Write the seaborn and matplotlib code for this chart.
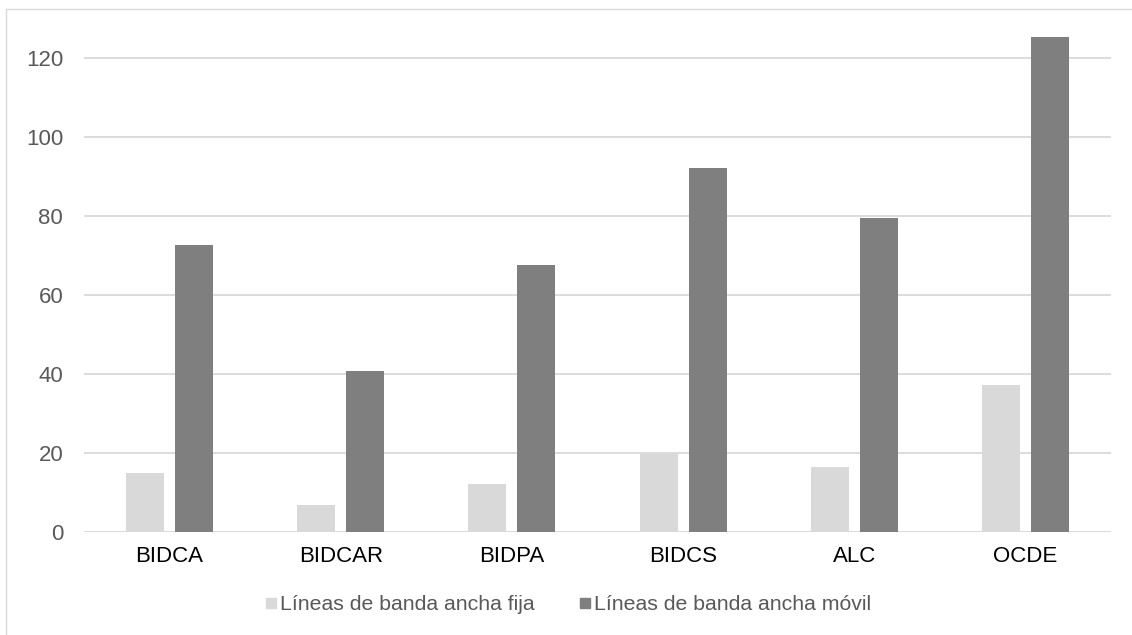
import matplotlib
matplotlib.use("Agg")
import matplotlib.pyplot as plt
from matplotlib.lines import Line2D
import pandas as pd
import seaborn as sns

# Data
categories = ["BIDCA", "BIDCAR", "BIDPA", "BIDCS", "ALC", "OCDE"]
fixed_lines = [14.9, 6.8, 12.2, 19.9, 16.5, 37.2]
mobile_lines = [72.7, 40.8, 67.4, 92.2, 79.3, 125.3]
series_names = ["Líneas de banda ancha fija", "Líneas de banda ancha móvil"]
y_ticks = [0, 20, 40, 60, 80, 100, 120]

colors = ["#D9D9D9", "#7F7F7F"]
grid_color = "#D9D9D9"
label_gray = "#595959"

df = pd.DataFrame({
    "category": categories * 2,
    "value": fixed_lines + mobile_lines,
    "series": [series_names[0]] * len(categories) + [series_names[1]] * len(categories),
})

sns.set_theme(style="white")
plt.rcParams["font.family"] = ["Liberation Sans", "DejaVu Sans"]

W, H = 1132, 635
fig = plt.figure(figsize=(W / 100, H / 100), dpi=100)

# axes placement in pixels
left_px, right_px = 84, 1111
zero_px = 531.7
px_per_unit = 3.95
ymax = 130
top_px = zero_px - ymax * px_per_unit
ax = fig.add_axes([left_px / W, (H - zero_px) / H,
                   (right_px - left_px) / W, (zero_px - top_px) / H])

sns.barplot(data=df, x="category", y="value", hue="series",
            hue_order=series_names, palette=colors, order=categories,
            width=0.572, gap=0.224, saturation=1, legend=False,
            edgecolor="none", linewidth=0, ax=ax, zorder=3)

ax.set_xlim(-0.5, len(categories) - 0.5)
ax.set_ylim(0, ymax)
ax.set_yticks(y_ticks)
ax.set_yticklabels([str(t) for t in y_ticks])
ax.set_xlabel("")
ax.set_ylabel("")

for t in y_ticks:
    ax.axhline(t, color=grid_color, lw=1.3, zorder=1)

for s in ax.spines.values():
    s.set_visible(False)

ax.tick_params(axis="y", length=0, pad=15, labelsize=16, labelcolor=label_gray)
ax.tick_params(axis="x", length=0, pad=10, labelsize=16, labelcolor="#000000")

# legend below the chart
handles = [Line2D([0], [0], marker="s", linestyle="none", markersize=6.6,
                  markerfacecolor=c, markeredgecolor=c) for c in colors]
fig.legend(handles, series_names, loc="center",
           bbox_to_anchor=(568.5 / W, 1 - 605 / H), ncol=2, frameon=False,
           fontsize=15.3, labelcolor=label_gray, handlelength=0.5,
           handletextpad=0.2, columnspacing=2.1, borderpad=0, borderaxespad=0)

# outer chart frame (left and top edges)
fig.add_artist(Line2D([6 / W, 6 / W], [0, 1 - 9 / H], transform=fig.transFigure,
                      color=grid_color, lw=1.0))
fig.add_artist(Line2D([6 / W, 1], [1 - 9 / H, 1 - 9 / H], transform=fig.transFigure,
                      color=grid_color, lw=1.0))

fig.savefig("out.png", dpi=100, facecolor="white")
